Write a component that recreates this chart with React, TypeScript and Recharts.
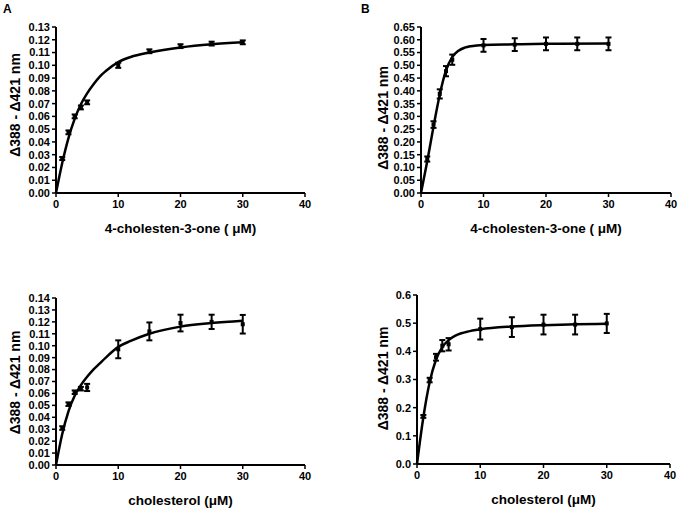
import { ComposedChart, Line, Scatter, ErrorBar, XAxis, YAxis, Label } from 'recharts'

const concs = [1, 2, 3, 4, 5, 10, 15, 20, 25, 30]
const xTicks = [0, 10, 20, 30, 40]

// panel A: 4-cholesten-3-one
const aValues = [0.027, 0.0475, 0.06, 0.067, 0.071, 0.1, 0.111, 0.115, 0.117, 0.118]
const aErrors = [0.0012, 0.0015, 0.0015, 0.0015, 0.0015, 0.002, 0.0015, 0.0015, 0.0015, 0.0015]
const aCurveX = [0, 1, 2, 3, 4, 5, 6, 7, 8, 10, 12, 15, 20, 25, 30]
const aCurveY = [0, 0.0235, 0.043, 0.058, 0.0695, 0.078, 0.085, 0.091, 0.0955, 0.1025, 0.1065, 0.11, 0.114, 0.1165, 0.118]
const aTicks = [0, 0.01, 0.02, 0.03, 0.04, 0.05, 0.06, 0.07, 0.08, 0.09, 0.1, 0.11, 0.12, 0.13]

// panel B: 4-cholesten-3-one
const bValues = [0.133, 0.268, 0.388, 0.477, 0.522, 0.578, 0.581, 0.584, 0.584, 0.584]
const bErrors = [0.01, 0.013, 0.018, 0.02, 0.02, 0.025, 0.025, 0.025, 0.025, 0.025]
const bCurveX = [0, 1, 2, 3, 4, 5, 6, 7, 8, 10, 15, 20, 30]
const bCurveY = [0, 0.124, 0.26, 0.385, 0.48, 0.532, 0.557, 0.569, 0.575, 0.58, 0.582, 0.584, 0.585]
const bTicks = [0, 0.05, 0.1, 0.15, 0.2, 0.25, 0.3, 0.35, 0.4, 0.45, 0.5, 0.55, 0.6, 0.65]

// panel C: cholesterol
const cValues = [0.031, 0.051, 0.061, 0.064, 0.065, 0.097, 0.112, 0.119, 0.12, 0.118]
const cErrors = [0.0015, 0.0015, 0.0015, 0.0015, 0.003, 0.0075, 0.0075, 0.007, 0.006, 0.0078]
const cCurveX = [0, 1, 2, 3, 4, 5, 6, 7, 8, 10, 12, 15, 20, 25, 30]
const cCurveY = [0, 0.026, 0.045, 0.058, 0.067, 0.074, 0.08, 0.085, 0.09, 0.099, 0.104, 0.11, 0.116, 0.119, 0.121]
const cTicks = [0, 0.01, 0.02, 0.03, 0.04, 0.05, 0.06, 0.07, 0.08, 0.09, 0.1, 0.11, 0.12, 0.13, 0.14]

// panel D: cholesterol
const dValues = [0.169, 0.298, 0.379, 0.42, 0.425, 0.479, 0.486, 0.495, 0.495, 0.499]
const dErrors = [0.005, 0.008, 0.012, 0.02, 0.022, 0.037, 0.035, 0.035, 0.035, 0.034]
const dCurveX = [0, 1, 2, 3, 4, 5, 6, 7, 8, 10, 15, 20, 25, 30]
const dCurveY = [0, 0.165, 0.29, 0.37, 0.415, 0.44, 0.455, 0.464, 0.47, 0.478, 0.488, 0.493, 0.496, 0.498]
const dTicks = [0, 0.1, 0.2, 0.3, 0.4, 0.5, 0.6]

const yTitle = 'Δ388 - Δ421 nm'
const font = '"Liberation Sans", Arial, Helvetica, sans-serif'

type Box = { l: number; r: number; t: number; b: number }

function Square(props: any) {
  const { cx, cy } = props
  if (cx == null || cy == null) return null
  return <rect x={cx - 2} y={cy - 2} width={4} height={4} fill="#000" />
}

function Panel(props: {
  left: number
  top: number
  width: number
  height: number
  plot: Box
  values: number[]
  errors: number[]
  curveX: number[]
  curveY: number[]
  yTicks: number[]
  digits: number
  xTitle: string
  yDx: number
  yDy: number
}) {
  const { left, top, width, height, plot } = props
  const points = concs.map((x, i) => ({ x, y: props.values[i], err: props.errors[i] }))
  const curve = props.curveX.map((x, i) => ({ x, y: props.curveY[i] }))
  const yMax = props.yTicks[props.yTicks.length - 1]
  const ylx = plot.l - left + props.yDx
  const yly = (plot.t + plot.b) / 2 - top + props.yDy
  const xlx = (plot.l + plot.r) / 2 - left
  const xly = plot.b - top + 35
  const tick = { fill: '#000', fontSize: 11, fontWeight: 'bold', fontFamily: font }

  return (
    <div style={{ position: 'absolute', left, top }}>
      <ComposedChart
        width={width}
        height={height}
        margin={{ top: plot.t - top, right: left + width - plot.r, bottom: 0, left: 0 }}
      >
        <XAxis
          type="number"
          dataKey="x"
          domain={[0, 40]}
          ticks={xTicks}
          height={top + height - plot.b}
          axisLine={{ stroke: '#000', strokeWidth: 2 }}
          tickLine={{ stroke: '#000', strokeWidth: 1.5 }}
          tickSize={4}
          tickMargin={3}
          tick={tick}
          interval={0}
        >
          <Label
            content={() => (
              <text x={xlx} y={xly} textAnchor="middle" dominantBaseline="central"
                fontSize={13.5} fontWeight="bold" fontFamily={font} fill="#000">
                {props.xTitle}
              </text>
            )}
          />
        </XAxis>
        <YAxis
          type="number"
          domain={[0, yMax]}
          ticks={props.yTicks}
          width={plot.l - left}
          tickFormatter={(v: number) => v.toFixed(props.digits)}
          axisLine={{ stroke: '#000', strokeWidth: 2 }}
          tickLine={{ stroke: '#000', strokeWidth: 1.5 }}
          tickSize={4}
          tickMargin={2}
          tick={tick}
          interval={0}
        >
          <Label
            content={() => (
              <text x={ylx} y={yly} textAnchor="middle" dominantBaseline="central"
                transform={`rotate(-90 ${ylx} ${yly})`}
                fontSize={14} fontWeight="bold" fontFamily={font} fill="#000">
                {yTitle}
              </text>
            )}
          />
        </YAxis>
        <Line
          data={curve}
          dataKey="y"
          type="monotone"
          stroke="#000"
          strokeWidth={2.5}
          dot={false}
          isAnimationActive={false}
        />
        <Scatter data={points} dataKey="y" shape={Square} isAnimationActive={false}>
          <ErrorBar dataKey="err" direction="y" width={3} stroke="#000" strokeWidth={2} />
        </Scatter>
      </ComposedChart>
    </div>
  )
}

const letter = {
  position: 'absolute' as const,
  fontFamily: font,
  fontWeight: 'bold',
  fontSize: 12,
  lineHeight: '12px',
}

export default function App() {
  return (
    <div style={{ position: 'absolute', left: 0, top: 0, width: 681, height: 510, background: '#fff' }}>
      <div style={{ ...letter, left: 3, top: 3 }}>A</div>
      <div style={{ ...letter, left: 361, top: 3 }}>B</div>
      <Panel left={0} top={0} width={340} height={250} plot={{ l: 56, r: 305, t: 27, b: 193 }}
        values={aValues} errors={aErrors} curveX={aCurveX} curveY={aCurveY}
        yTicks={aTicks} digits={2} xTitle="4-cholesten-3-one ( μM)" yDx={-41} yDy={-5} />
      <Panel left={340} top={0} width={341} height={250} plot={{ l: 421, r: 671, t: 27, b: 193 }}
        values={bValues} errors={bErrors} curveX={bCurveX} curveY={bCurveY}
        yTicks={bTicks} digits={2} xTitle="4-cholesten-3-one ( μM)" yDx={-38} yDy={8} />
      <Panel left={0} top={255} width={340} height={255} plot={{ l: 56, r: 305, t: 298, b: 465 }}
        values={cValues} errors={cErrors} curveX={cCurveX} curveY={cCurveY}
        yTicks={cTicks} digits={2} xTitle="cholesterol (μM)" yDx={-41} yDy={1} />
      <Panel left={340} top={255} width={341} height={255} plot={{ l: 417, r: 670, t: 295, b: 464 }}
        values={dValues} errors={dErrors} curveX={dCurveX} curveY={dCurveY}
        yTicks={dTicks} digits={1} xTitle="cholesterol (μM)" yDx={-34} yDy={-1} />
    </div>
  )
}
